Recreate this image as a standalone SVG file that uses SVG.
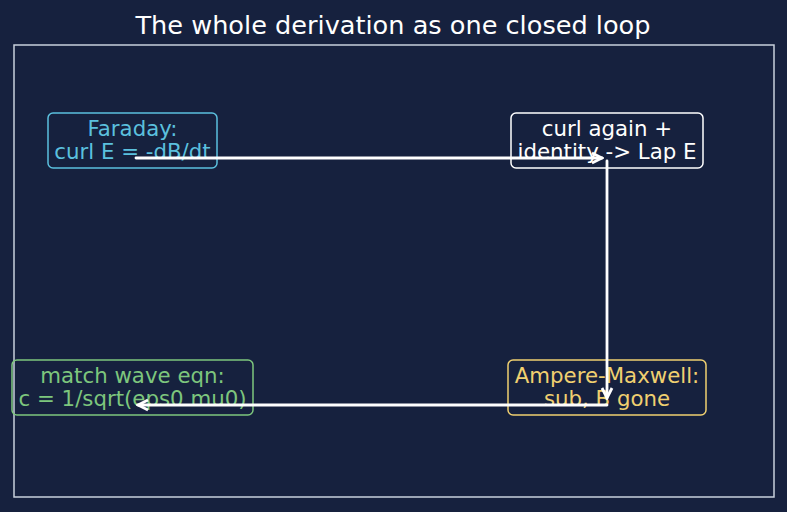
<svg xmlns="http://www.w3.org/2000/svg" width="787" height="512" viewBox="0 0 787 512">
<style>
text{font-family:"DejaVu Sans",sans-serif;text-anchor:middle}
.t{font-size:21.3px}
.box{fill:none;stroke-width:1.5}
.c{stroke:#fff;stroke-width:2.8;fill:none;stroke-linecap:round}
</style>
<defs>
<marker id="a" viewBox="-12 -7 14 14" refX="0" refY="0" markerWidth="14" markerHeight="14" orient="auto" markerUnits="userSpaceOnUse">
<path d="M-10,-5 L0,0 L-10,5" fill="none" stroke="#fff" stroke-width="2.8" stroke-linejoin="miter"/>
</marker>
</defs>
<rect width="787" height="512" fill="#16213e"/>
<text x="393" y="34" font-size="25.6" fill="#fff">The whole derivation as one closed loop</text>
<rect x="14" y="45" width="760" height="452" fill="none" stroke="#c8d0dc" stroke-width="1.5"/>
<g id="faraday">
<rect class="box" x="48" y="113" width="169" height="55" rx="5" stroke="#5bc0de"/>
<text class="t" x="132.5" y="136" fill="#5bc0de">Faraday:</text>
<text class="t" x="132.5" y="159" fill="#5bc0de">curl E = -dB/dt</text>
</g>
<g id="curl">
<rect class="box" x="511" y="113" width="192" height="55" rx="5" stroke="#fff"/>
<text class="t" x="607" y="136" fill="#fff">curl again +</text>
<text class="t" x="607" y="159" fill="#fff">identity -&gt; Lap E</text>
</g>
<g id="ampere">
<rect class="box" x="508" y="360" width="198" height="55" rx="5" stroke="#f0d070"/>
<text class="t" x="607" y="383" fill="#f0d070">Ampere-Maxwell:</text>
<text class="t" x="607" y="406" fill="#f0d070">sub, B gone</text>
</g>
<g id="wave">
<rect class="box" x="12" y="360" width="241" height="55" rx="5" stroke="#7dc67d"/>
<text class="t" x="132.5" y="383" fill="#7dc67d">match wave eqn:</text>
<text class="t" x="132.5" y="406" fill="#7dc67d">c = 1/sqrt(eps0 mu0)</text>
</g>
<g id="connectors">
<path class="c" d="M136,158 L602,158" marker-end="url(#a)"/>
<path class="c" d="M607,161 L607,398" marker-end="url(#a)"/>
<path class="c" d="M607,405 L138,405" marker-end="url(#a)"/>
</g>
</svg>
